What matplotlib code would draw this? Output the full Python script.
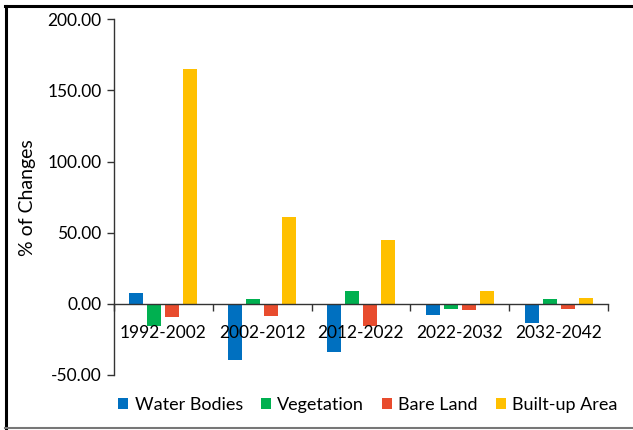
import matplotlib
matplotlib.use("Agg")
import matplotlib.pyplot as plt
import numpy as np
from matplotlib.lines import Line2D
from matplotlib.ticker import FixedLocator, FormatStrFormatter

plt.rcParams['font.family'] = ['Lato', 'DejaVu Sans']

periods = ["1992-2002", "2002-2012", "2012-2022", "2022-2032", "2032-2042"]
series_names = ["Water Bodies", "Vegetation", "Bare Land", "Built-up Area"]
water_bodies = [7.3, -39.4, -34.2, -7.5, -13.6]
vegetation = [-15.5, 3.3, 8.9, -3.5, 3.3]
bare_land = [-9.6, -8.4, -15.5, -4.2, -3.5]
built_up = [164.8, 61.2, 45.0, 8.7, 4.0]
colors = ["#0070C0", "#00B050", "#E84C2E", "#FFC000"]

fig = plt.figure(figsize=(6.33, 4.30), dpi=100)
ax = fig.add_axes([0.180, 0.128, 0.7805, 0.827])

x = np.arange(len(periods))
step, width = 0.182, 0.141
for i, (vals, c, name) in enumerate(zip([water_bodies, vegetation, bare_land, built_up],
                                         colors, series_names)):
    ax.bar(x + (i - 1.5) * step, vals, width, color=c, label=name, zorder=1)

ax.set_xlim(-0.5, len(periods) - 0.5)
ax.set_ylim(-50, 200)
ax.set_yticks(np.arange(-50, 201, 50))
ax.yaxis.set_major_formatter(FormatStrFormatter("%.2f"))
ax.tick_params(axis='y', direction='out', length=5, width=1, labelsize=12.5, pad=4, color='#333333')

for s in ['top', 'right']:
    ax.spines[s].set_visible(False)
ax.spines['bottom'].set_position(('data', 0))
ax.spines['bottom'].set_zorder(2)
for s in ['left', 'bottom']:
    ax.spines[s].set_color('#333333')
    ax.spines[s].set_linewidth(1)

ax.set_xticks(x)
ax.set_xticklabels(periods)
ax.tick_params(axis='x', which='major', length=0, labelsize=12.5, pad=15)
ax.xaxis.set_minor_locator(FixedLocator(np.arange(-0.5, len(periods), 1.0)))
ax.tick_params(axis='x', which='minor', direction='out', length=5, width=1, color='#333333')
for lbl in ax.get_xticklabels():
    lbl.set_zorder(5)

ax.set_ylabel("% of Changes", fontsize=14, labelpad=8)

ax.legend(loc='lower center', bbox_to_anchor=(0.514, -0.143), ncol=4, frameon=False,
          fontsize=13, handlelength=0.55, handleheight=0.55, handletextpad=0.35,
          columnspacing=1.0, borderpad=0.2)

# frame lines around the chart area
fig.add_artist(Line2D([0.008, 1.0], [0.986, 0.986], transform=fig.transFigure, color='black', lw=2.2))
fig.add_artist(Line2D([0.0095, 0.0095], [0.004, 0.986], transform=fig.transFigure, color='black', lw=2.2))
fig.add_artist(Line2D([0.008, 1.0], [0.004, 0.004], transform=fig.transFigure, color='#777777', lw=1.5))

fig.savefig("out.png", dpi=100)
